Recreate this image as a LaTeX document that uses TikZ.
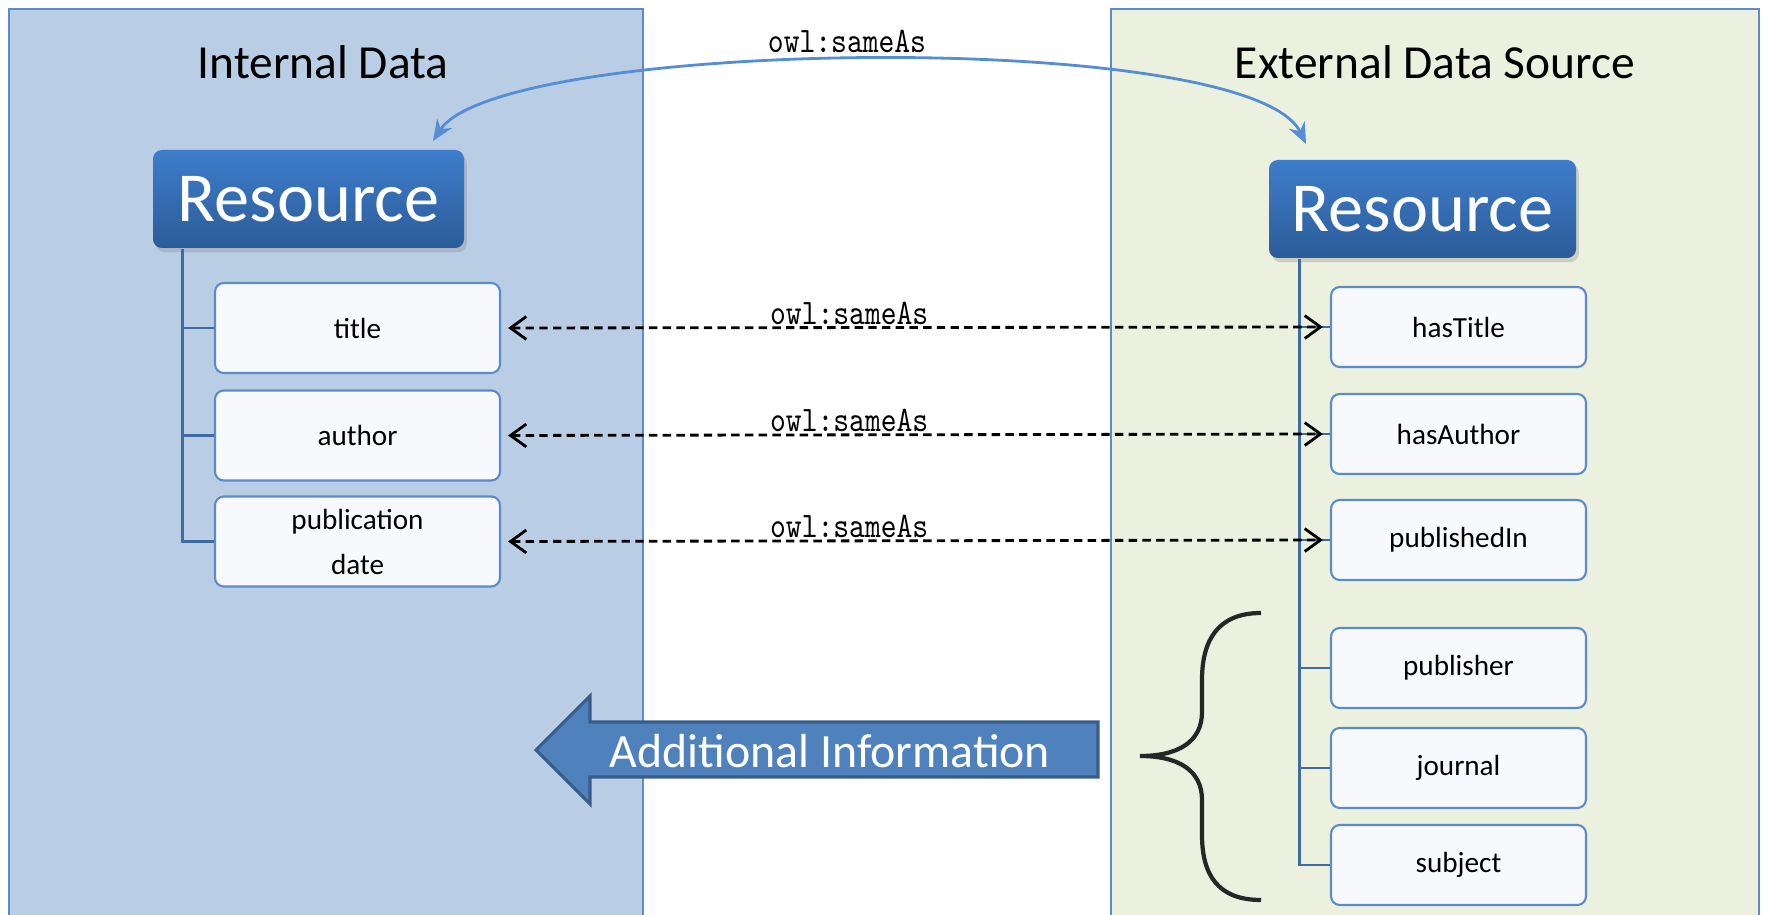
\documentclass[tikz,border=0pt]{standalone}
\usepackage{fontspec}
\setmainfont{Carlito}
\usetikzlibrary{arrows.meta,calc,shadows,positioning}
\definecolor{intfill}{HTML}{B9CDE5}
\definecolor{extfill}{HTML}{EBF1DE}
\definecolor{panelline}{HTML}{5B8BC9}
\definecolor{restop}{HTML}{3E7DCB}
\definecolor{resbot}{HTML}{2B5C99}
\definecolor{itemfill}{HTML}{F8F9FC}
\definecolor{itemline}{HTML}{5B8BC9}
\definecolor{treeline}{HTML}{3F6BA4}
\definecolor{curveline}{HTML}{558ED5}
\definecolor{arrowfill}{HTML}{4F81BD}
\definecolor{arrowline}{HTML}{385D8A}
\definecolor{braceline}{HTML}{262626}
\tikzset{
  panel/.style={draw=panelline, line width=0.6pt},
  paneltitle/.style={font=\fontsize{13.5}{16}\selectfont},
  res/.style={rounded corners=2.5pt, top color=restop, bottom color=resbot, text=white,
    font=\fontsize{20}{24}\selectfont, minimum height=0.98cm,
    drop shadow={opacity=0.3, shadow xshift=0.8pt, shadow yshift=-1.2pt}},
  item/.style={draw=itemline, line width=0.6pt, fill=itemfill, rounded corners=2.5pt,
    font=\fontsize{8.3}{12.8}\selectfont, align=center},
  tree/.style={draw=treeline, line width=0.7pt},
  sameas/.style={dash pattern=on 2.4pt off 1.5pt, line width=0.8pt,
    {Straight Barb[length=4.5pt,width=6.5pt]}-{Straight Barb[length=4.5pt,width=6.5pt]},
    shorten <=2pt, shorten >=2pt},
  lab/.style={font=\ttfamily\fontsize{10.2}{12}\selectfont, inner sep=0.5pt,
    xscale=0.84, transform shape},
  bigarrow/.style={fill=arrowfill, draw=arrowline, line width=0.9pt},
  brace/.style={draw=braceline, line width=1.2pt},
}
\begin{document}
\begin{tikzpicture}[x=0.1mm, y=-0.1mm]
  \useasboundingbox (0,0) rectangle (1765,915);
  % the two data panels
  \draw[panel, fill=intfill] (9,9) rectangle (643,930);
  \draw[panel, fill=extfill] (1111,9) rectangle (1759,930);
  \node[paneltitle] (intTitle) at (323,62) {Internal Data};
  \node[paneltitle] (extTitle) at (1435,62) {External Data Source};

  % resources
  \node[res, minimum width=3.11cm] (resL) at (308.5,199) {Resource};
  \node[res, minimum width=3.07cm] (resR) at (1422.5,209) {Resource};

  % internal properties
  \tikzset{item/.append style={minimum width=2.85cm, minimum height=0.9cm}}
  \node[item] (iTitle) at (357.5,328) {title};
  \node[item] (iAuthor) at (357.5,435.5) {author};
  \node[item] (iDate) at (357.5,541.5) {publication\\date};

  % external properties
  \node[item, minimum width=2.55cm, minimum height=0.8cm] (eTitle) at (1458.5,327) {hasTitle};
  \node[item, minimum width=2.55cm, minimum height=0.8cm] (eAuthor) at (1458.5,434) {hasAuthor};
  \node[item, minimum width=2.55cm, minimum height=0.8cm] (ePub) at (1458.5,540) {publishedIn};
  \node[item, minimum width=2.55cm, minimum height=0.8cm] (ePublisher) at (1458.5,668) {publisher};
  \node[item, minimum width=2.55cm, minimum height=0.8cm] (eJournal) at (1458.5,768) {journal};
  \node[item, minimum width=2.55cm, minimum height=0.8cm] (eSubject) at (1458.5,865) {subject};

  % trees
  \coordinate (trL) at ($(resL.south west)+(30,0)$);
  \draw[tree] (trL) |- (iDate.west);
  \foreach \n in {iTitle,iAuthor} \draw[tree] (trL |- \n.west) -- (\n.west);
  \coordinate (trR) at ($(resR.south west)+(31,0)$);
  \draw[tree] (trR) |- (eSubject.west);
  \foreach \n in {eTitle,eAuthor,ePub,ePublisher,eJournal} \draw[tree] (trR |- \n.west) -- (\n.west);

  % sameAs links
  \draw[sameas] (iTitle.east) -- (eTitle.west) node[lab, pos=0.42, anchor=south] (labTitle) {owl:sameAs};
  \draw[sameas] (iAuthor.east) -- (eAuthor.west) node[lab, pos=0.42, anchor=south] (labAuthor) {owl:sameAs};
  \draw[sameas] (iDate.east) -- (ePub.west) node[lab, pos=0.42, anchor=south] (labDate) {owl:sameAs};

  \coordinate (curL) at (433,141);
  \coordinate (curR) at (1306,144);
  \draw[curveline, line width=0.8pt, {Stealth[length=6pt,width=5pt]}-{Stealth[length=6pt,width=5pt]}]
    (curL) .. controls (500,38) and (1250,28) .. (curR);
  \node[lab] (labRes) at (847,41) {owl:sameAs};

  % additional information
  \draw[bigarrow] (536,750) -- (590,696) -- (590,722) -- (1098,722) -- (1098,777)
    -- (590,777) -- (590,804) -- cycle;
  \node[text=white, font=\fontsize{13.6}{16}\selectfont] (addInfo) at (830,751) {Additional Information};
  \draw[brace] (1261,613) .. controls (1218,613) and (1202,640) .. (1202,680) -- (1202,712)
    .. controls (1202,742) and (1178,756) .. (1140,756)
    .. controls (1178,756) and (1202,770) .. (1202,800) -- (1202,835)
    .. controls (1202,875) and (1218,900) .. (1261,900);
\end{tikzpicture}
\end{document}
